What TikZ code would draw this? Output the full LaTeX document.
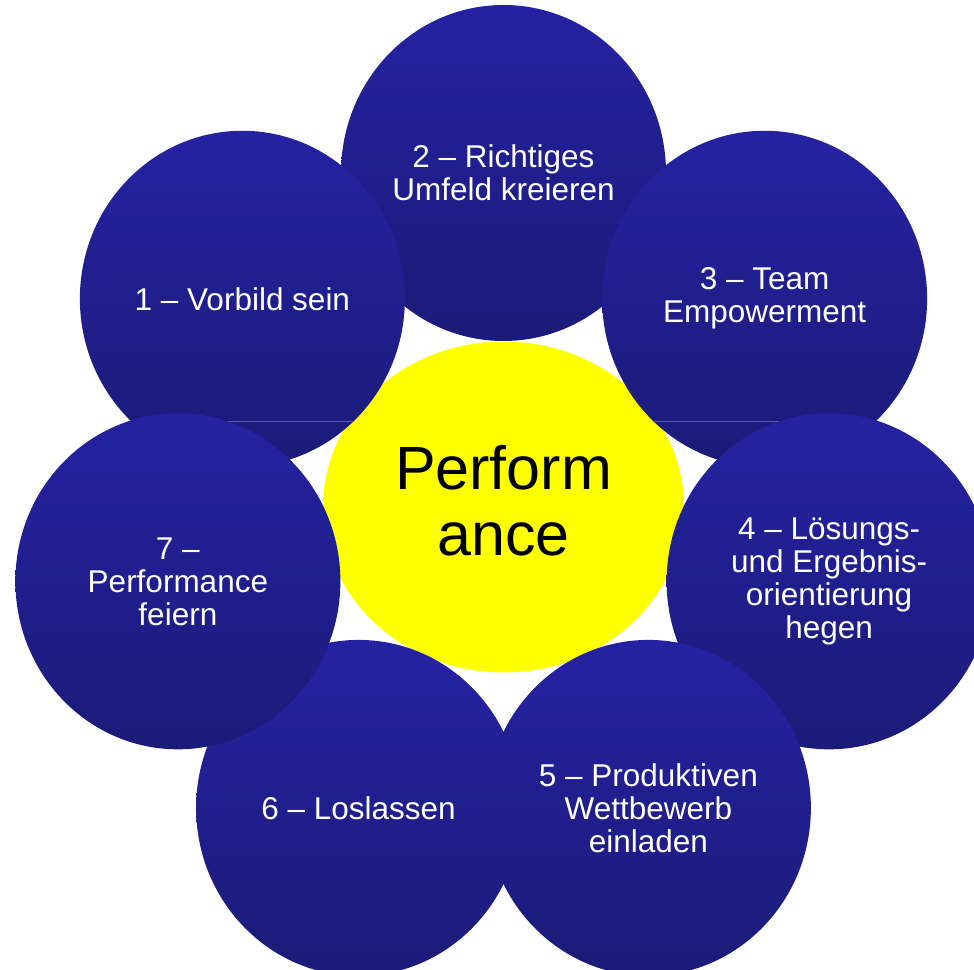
\documentclass[tikz,border=0pt]{standalone}
\usepackage{fontspec}
\setmainfont{Liberation Sans}
\usetikzlibrary{shapes.geometric,calc}
\definecolor{bubtop}{RGB}{37,34,162}
\definecolor{bubbot}{RGB}{27,27,120}
\definecolor{streak}{RGB}{88,88,175}
\definecolor{coreyellow}{RGB}{255,255,0}
\tikzset{
  bub/.style={ellipse, minimum width=325pt, minimum height=336pt, inner sep=0pt,
    top color=bubtop, bottom color=bubbot, draw=none, text=white, align=center,
    font=\fontsize{31.5}{33}\selectfont},
  core/.style={ellipse, minimum width=361pt, minimum height=331pt, inner sep=0pt,
    fill=coreyellow, draw=none},
  coretext/.style={text=black, align=center, inner sep=0pt,
    font=\fontsize{61}{66}\selectfont},
  streakline/.style={draw=streak, line width=0.8pt}
}
\begin{document}
\begin{tikzpicture}[x=1pt,y=1pt]
\useasboundingbox (0,0) rectangle (974,969);
\coordinate (ctr) at (503.5,462);
\node[core] (perf) at (ctr) {};
\node[coretext] (perftxt) at ($(ctr)+(0,6)$) {Perform\\ance};
\node[bub] (n2) at ($(ctr)+(90:334)$) {2 – Richtiges\\Umfeld kreieren};
\node[bub] (n3) at ($(ctr)+(38.57:334)$) {3 – Team\\Empowerment};
\coordinate (s3a) at (653,548);
\coordinate (s3b) at (800,548);
\draw[streakline] (s3a) -- (s3b);
\node[bub] (n4) at ($(ctr)+(-12.86:334)$) {4 – Lösungs-\\und Ergebnis-\\orientierung\\hegen};
\node[bub] (n5) at ($(ctr)+(-64.29:334)$) {5 – Produktiven\\Wettbewerb\\einladen};
\node[bub] (n6) at ($(ctr)+(-115.71:334)$) {6 – Loslassen};
\node[bub] (n1) at ($(ctr)+(141.43:334)$) {1 – Vorbild sein};
\coordinate (s1a) at (226,548);
\coordinate (s1b) at (354,548);
\draw[streakline] (s1a) -- (s1b);
\node[bub] (n7) at ($(ctr)+(192.86:334)$) {7 –\\Performance\\feiern};
\end{tikzpicture}
\end{document}
